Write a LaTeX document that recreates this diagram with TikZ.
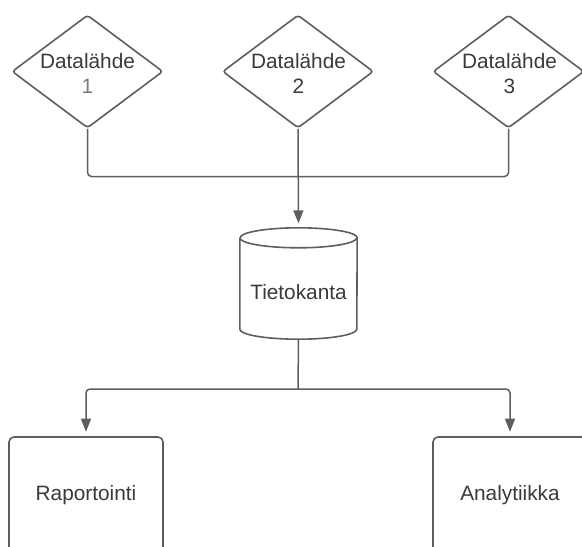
\documentclass[tikz,border=0pt]{standalone}
\usepackage{fontspec}
\setmainfont{Liberation Sans}
\usetikzlibrary{shapes.geometric,arrows.meta}
\definecolor{linegray}{HTML}{5E5E5E}
\definecolor{textgray}{HTML}{3A3A3A}
\definecolor{lightnum}{HTML}{7A7A7A}
\begin{document}
\begin{tikzpicture}[x=1pt,y=-1pt,
  shapeline/.style={draw=linegray,line width=1.6pt},
  source/.style={shapeline,diamond,minimum width=151pt,minimum height=113pt,inner sep=0pt,rounded corners=3pt},
  target/.style={shapeline,rectangle,minimum width=154pt,minimum height=120pt,inner sep=0pt,rounded corners=5pt},
  label/.style={text=textgray,inner sep=0pt,align=center,font=\fontsize{20.8}{25}\selectfont},
  conn/.style={draw=linegray,line width=1.5pt,rounded corners=4pt},
  arr/.style={conn,-{Triangle[length=13pt,width=10pt]},shorten >=4.5pt}]
\useasboundingbox (0,0) rectangle (582,547);
\clip (0,0) rectangle (582,547);
\fill[white] (0,0) rectangle (582,547);

% data sources
\node[source] (d1) at (87.5,71.5) {};
\node[source] (d2) at (298,71.5) {};
\node[source] (d3) at (508.5,71.5) {};
\node[label,anchor=north] (t1) at (87.5,52.8) {Datalähde\\\textcolor{lightnum}{1}};
\node[label,anchor=north] (t2) at (298.5,52.8) {Datalähde\\2};
\node[label,anchor=north] (t3) at (509.5,52.8) {Datalähde\\3};

% database cylinder
\node[minimum width=117pt,minimum height=111pt,inner sep=0pt] (db) at (298.5,283.5) {};
\draw[shapeline,fill=white]
  ([yshift=-10pt]db.north west) -- ([yshift=10pt]db.south west)
  arc[start angle=180,end angle=360,x radius=58.5pt,y radius=10pt]
  -- ([yshift=-10pt]db.north east)
  arc[start angle=0,end angle=180,x radius=58.5pt,y radius=10pt];
\draw[shapeline]
  ([yshift=-10pt]db.north west)
  arc[start angle=180,end angle=360,x radius=58.5pt,y radius=10pt];
\node[label,anchor=base] (tdb) at (298.5,299) {Tietokanta};

% outputs (their lower edges run past the bottom)
\node[target] (rap) at (86,497) {};
\node[target] (ana) at (510,497) {};
\node[label,anchor=base] (trap) at (86,500) {Raportointi};
\node[label,anchor=base] (tana) at (510,500) {Analytiikka};

% connectors
\coordinate (jin) at (298,176.5);
\coordinate (jout) at (298,389);
\draw[conn] (d1.south) |- (jin);
\draw[conn] (d3.south) |- (jin);
\draw[arr] (d2.south) -- (db.north);
\draw[conn] (db.south) -- (jout);
\draw[arr] (jout) -| (rap.north);
\draw[arr] (jout) -| (ana.north);
\end{tikzpicture}
\end{document}
